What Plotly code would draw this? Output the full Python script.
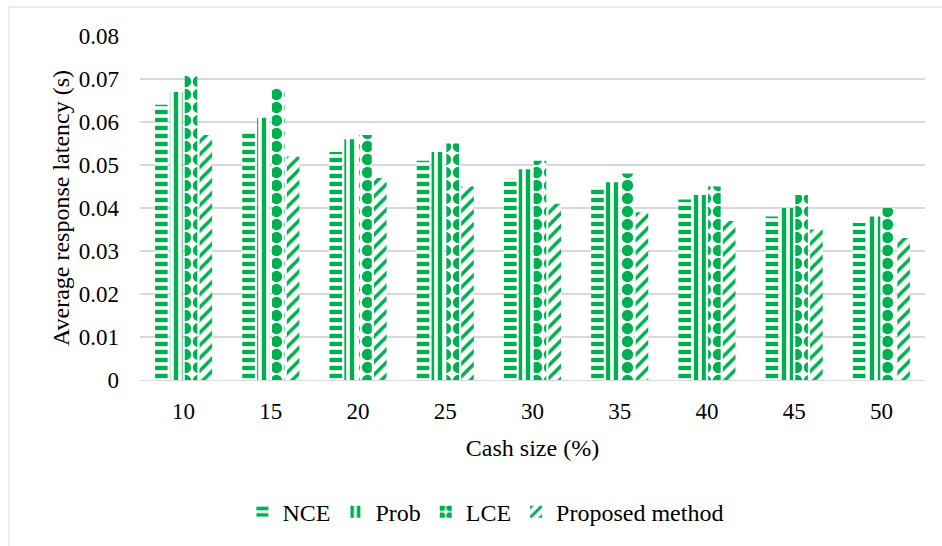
import plotly.graph_objects as go

# Cache size categories (%) and average response latency (s) per method
cache_sizes = ["10", "15", "20", "25", "30", "35", "40", "45", "50"]
nce = [0.064, 0.058, 0.053, 0.051, 0.047, 0.045, 0.042, 0.038, 0.0365]
prob = [0.067, 0.061, 0.056, 0.053, 0.049, 0.046, 0.043, 0.040, 0.038]
lce = [0.071, 0.068, 0.057, 0.055, 0.051, 0.048, 0.045, 0.043, 0.040]
proposed = [0.057, 0.052, 0.047, 0.045, 0.041, 0.039, 0.037, 0.035, 0.033]

y_ticks = [0, 0.01, 0.02, 0.03, 0.04, 0.05, 0.06, 0.07, 0.08]
y_tick_text = ["0", "0.01", "0.02", "0.03", "0.04", "0.05", "0.06", "0.07", "0.08"]

GREEN = "#00b050"
FONT = "Liberation Serif"
TICK_FS = 23
TEXT_FS = 24

# Fill patterns for each method
series = [
    ("NCE", nce, dict(shape="-", size=8, solidity=0.55)),
    ("Prob", prob, dict(shape="|", size=8, solidity=0.55)),
    ("LCE", lce, dict(shape=".", size=13, solidity=0.6)),
    ("Proposed method", proposed, dict(shape="/", size=9, solidity=0.4)),
]

fig = go.Figure()
for name, values, pat in series:
    fig.add_trace(go.Bar(
        name=name,
        x=cache_sizes,
        y=values,
        marker=dict(
            color="white",
            line=dict(width=0),
            pattern=dict(fgcolor=GREEN, bgcolor="white", fillmode="replace", **pat),
        ),
    ))

# Outer chart border
fig.add_shape(
    type="rect", xref="paper", yref="paper",
    x0=-0.1669, x1=1.03, y0=-0.5, y1=1.0843,
    line=dict(color="#d9d9d9", width=1), fillcolor="rgba(0,0,0,0)", layer="below",
)

fig.update_layout(
    width=942, height=546,
    margin=dict(l=140, r=17, t=36, b=166),
    paper_bgcolor="white", plot_bgcolor="white",
    font=dict(family=FONT, size=TICK_FS, color="#000000"),
    barmode="group", bargap=0.32, bargroupgap=0.15,
    showlegend=True,
    legend=dict(
        orientation="h", x=0.44, xanchor="center", y=-0.384, yanchor="middle",
        font=dict(family=FONT, size=TEXT_FS), itemwidth=30, traceorder="normal",
    ),
    xaxis=dict(
        showgrid=False, showline=True, linecolor="#d9d9d9", linewidth=1,
        ticks="", ticklabelstandoff=10, tickfont=dict(family=FONT, size=TICK_FS),
        title=dict(text="Cash size (%)", font=dict(family=FONT, size=TEXT_FS), standoff=16),
    ),
    yaxis=dict(
        range=[0, 0.08], tickvals=y_ticks, ticktext=y_tick_text,
        showgrid=True, gridcolor="#d9d9d9", gridwidth=1.5,
        zeroline=False, showline=False, ticks="", ticklabelstandoff=20,
        tickfont=dict(family=FONT, size=TICK_FS),
        title=dict(text="Average response latency (s)", font=dict(family=FONT, size=TEXT_FS), standoff=2),
    ),
)

fig.write_html("out.html")
